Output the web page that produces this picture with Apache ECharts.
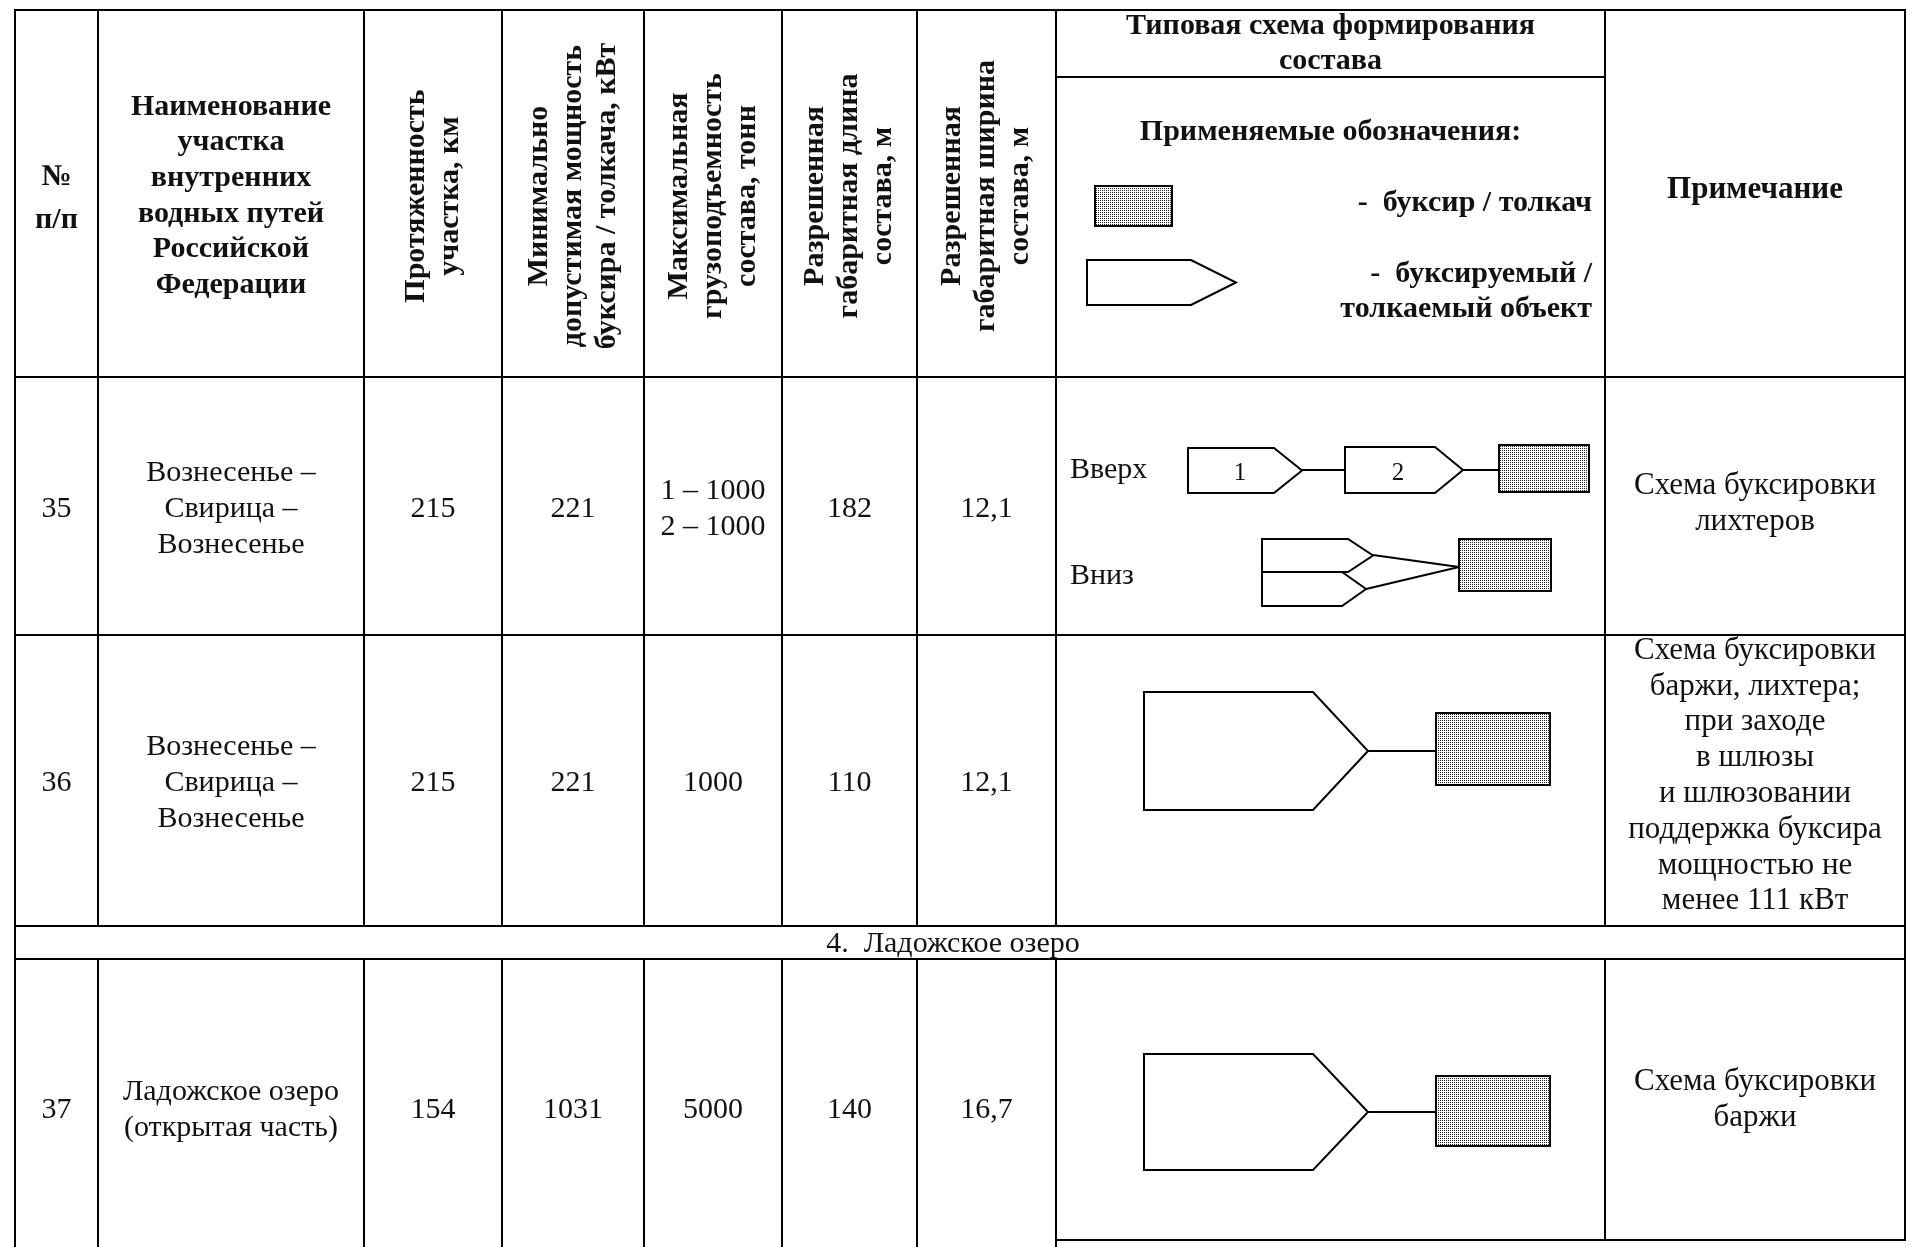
<!DOCTYPE html>
<html>
<head>
<meta charset="utf-8">
<title>Типовые схемы формирования составов</title>
<script src="https://cdn.jsdelivr.net/npm/echarts@6.0.0/dist/echarts.min.js"></script>
<style>
html, body { margin: 0; padding: 0; background: #ffffff; }
#main { width: 1915px; height: 1247px; }
</style>
</head>
<body>
<div id="main"></div>
<script>
// table content
const rowNumbers = ['35', '36', '37'];
const sectionNames = [
  'Вознесенье –\nСвирица –\nВознесенье',
  'Вознесенье –\nСвирица –\nВознесенье',
  'Ладожское озеро\n(открытая часть)'
];
const lengthKm = [215, 215, 154];
const minPowerKw = [221, 221, 1031];
const maxCapacityT = ['1 – 1000\n2 – 1000', '1000', '5000'];
const maxLengthM = ['182', '110', '140'];
const maxWidthM = ['12,1', '12,1', '16,7'];
const notes = [
  'Схема буксировки\nлихтеров',
  'Схема буксировки\nбаржи, лихтера;\nпри заходе\nв шлюзы\nи шлюзовании\nподдержка буксира\nмощностью не\nменее 111 кВт',
  'Схема буксировки\nбаржи'
];
const basinTitle = '4.  Ладожское озеро';
const headerTitles = [
  '№\nп/п',
  'Наименование\nучастка\nвнутренних\nводных путей\nРоссийской\nФедерации',
  'Протяженность\nучастка, км',
  'Минимально\nдопустимая мощность\nбуксира / толкача, кВт',
  'Максимальная\nгрузоподъемность\nсостава, тонн',
  'Разрешенная\nгабаритная длина\nсостава, м',
  'Разрешенная\nгабаритная ширина\nсостава, м'
];
const schemeTitle = 'Типовая схема формирования\nсостава';
const legendTitle = 'Применяемые обозначения:';
const legendTug = '-  буксир / толкач';
const legendBarge = '-  буксируемый /\nтолкаемый объект';
const notesTitle = 'Примечание';
const directionLabels = ['Вверх', 'Вниз'];
const bargeNumbers = ['1', '2'];

// layout (page pixels, mapped 1:1 by the hidden axes)
const colEdges = [15, 98, 364, 502, 644, 782, 917, 1056, 1605, 1905];
const rowEdges = [10, 77, 377, 635, 926, 959, 1240];
const dataBands = [2, 3, 5];
const openBottom = 1262;

const FONT = "'Liberation Serif', 'DejaVu Serif', serif";
const INK = '#111111';

function cx(c0, c1) { return (colEdges[c0] + colEdges[c1]) / 2; }
function cy(r0, r1) { return (rowEdges[r0] + rowEdges[r1]) / 2; }

// cells
const cells = [];
for (let c = 0; c < 9; c++) {
  if (c === 7) {
    cells.push([7, 8, rowEdges[0], rowEdges[1]]);
    cells.push([7, 8, rowEdges[1], rowEdges[2]]);
  } else {
    cells.push([c, c + 1, rowEdges[0], rowEdges[2]]);
  }
}
dataBands.forEach((b, i) => {
  for (let c = 0; c < 9; c++) {
    let bottom = rowEdges[b + 1];
    if (i === 2 && c < 7) bottom = openBottom;
    cells.push([c, c + 1, rowEdges[b], bottom]);
  }
});
cells.push([0, 9, rowEdges[4], rowEdges[5]]);

// texts
const texts = [];
function addText(x, y, text, o) {
  texts.push(Object.assign({ x, y, text, size: 30, weight: 'normal', align: 'center', lh: 36, rot: 0 }, o || {}));
}
headerTitles.forEach((t, c) => {
  const rotated = c >= 2;
  addText(cx(c, c + 1), c === 0 ? 199 : 196, t, {
    size: 30, weight: 'bold', lh: c === 0 ? 43 : (rotated ? 34 : 35.7), rot: rotated ? Math.PI / 2 : 0
  });
});
addText(cx(7, 8), 44, schemeTitle, { size: 30, weight: 'bold', lh: 35 });
addText(cx(7, 8), 132, legendTitle, { size: 30, weight: 'bold' });
addText(1592, 203, legendTug, { size: 30, weight: 'bold', align: 'right' });
addText(1592, 292, legendBarge, { size: 30, weight: 'bold', align: 'right', lh: 35 });
addText(cx(8, 9), 190, notesTitle, { size: 31, weight: 'bold' });

const rowCols = [rowNumbers, sectionNames, lengthKm, minPowerKw, maxCapacityT, maxLengthM, maxWidthM];
dataBands.forEach((b, i) => {
  const yMid = i === 2 ? 1110 : cy(b, b + 1) + 3;
  rowCols.forEach((arr, c) => {
    addText(cx(c, c + 1), yMid, String(arr[i]));
  });
  addText(cx(8, 9), i === 1 ? 776 : (i === 0 ? 504 : 1100), notes[i], { size: 31, lh: 35.8 });
});
addText(953, 944, basinTitle, { size: 30 });
addText(1070, 470, directionLabels[0], { align: 'left' });
addText(1070, 576, directionLabels[1], { align: 'left' });
addText(1240, 473, bargeNumbers[0], { size: 25 });
addText(1398, 473, bargeNumbers[1], { size: 25 });

// convoy sketches: barges (pentagons), tugs (dotted boxes), tow lines
const barges = [
  [1087, 260, 1236, 305, 1191],
  [1188, 448, 1302, 493, 1274],
  [1345, 447, 1463, 493, 1435],
  [1262, 539, 1373, 572, 1348],
  [1262, 572, 1366, 606, 1342],
  [1144, 692, 1368, 810, 1313],
  [1144, 1054, 1368, 1170, 1313]
];
const tugs = [
  [1095, 186, 1172, 226],
  [1499, 445, 1589, 492],
  [1459, 539, 1551, 591],
  [1436, 713, 1550, 785],
  [1436, 1076, 1550, 1146]
];
const towLines = [
  [1302, 470, 1345, 470],
  [1463, 470, 1499, 470],
  [1373, 555, 1459, 567],
  [1366, 589, 1459, 567],
  [1368, 751, 1436, 751],
  [1368, 1112, 1436, 1112]
];

const dots = document.createElement('canvas');
dots.width = 4;
dots.height = 4;
const dctx = dots.getContext('2d');
dctx.fillStyle = '#ffffff';
dctx.fillRect(0, 0, 4, 4);
dctx.fillStyle = '#222222';
dctx.fillRect(0, 0, 1, 1);
dctx.fillRect(2, 2, 1, 1);
dctx.fillRect(2, 0, 1, 1);
dctx.fillRect(0, 2, 1, 1);

const myChart = echarts.init(document.getElementById('main'), null, { renderer: 'canvas' });

const option = {
  animation: false,
  backgroundColor: '#ffffff',
  grid: { left: 0, right: 0, top: 0, bottom: 0 },
  xAxis: { type: 'value', min: 0, max: 1915, show: false },
  yAxis: { type: 'value', min: 0, max: 1247, inverse: true, show: false },
  series: [
    {
      type: 'custom',
      name: 'cells',
      silent: true,
      clip: false,
      data: cells.map((c) => [colEdges[c[0]], c[2]]),
      renderItem: (params, api) => {
        const c = cells[params.dataIndex];
        const p0 = api.coord([colEdges[c[0]], c[2]]);
        const p1 = api.coord([colEdges[c[1]], c[3]]);
        return {
          type: 'rect',
          shape: { x: p0[0], y: p0[1], width: p1[0] - p0[0], height: p1[1] - p0[1] },
          style: { fill: 'none', stroke: '#000000', lineWidth: 2 }
        };
      }
    },
    {
      type: 'custom',
      name: 'barges',
      silent: true,
      clip: false,
      data: barges.map((b) => [b[0], b[1]]),
      renderItem: (params, api) => {
        const b = barges[params.dataIndex];
        const a = api.coord([b[0], b[1]]);
        const s = api.coord([b[4], b[1]]);
        const t = api.coord([b[2], (b[1] + b[3]) / 2]);
        const s2 = api.coord([b[4], b[3]]);
        const a2 = api.coord([b[0], b[3]]);
        return {
          type: 'polygon',
          shape: { points: [a, s, t, s2, a2] },
          style: { fill: '#ffffff', stroke: '#000000', lineWidth: 2 }
        };
      }
    },
    {
      type: 'custom',
      name: 'towLines',
      silent: true,
      clip: false,
      data: towLines.map((l) => [l[0], l[1]]),
      renderItem: (params, api) => {
        const l = towLines[params.dataIndex];
        const p0 = api.coord([l[0], l[1]]);
        const p1 = api.coord([l[2], l[3]]);
        return {
          type: 'line',
          shape: { x1: p0[0], y1: p0[1], x2: p1[0], y2: p1[1] },
          style: { stroke: '#000000', lineWidth: 2 }
        };
      }
    },
    {
      type: 'custom',
      name: 'tugs',
      silent: true,
      clip: false,
      data: tugs.map((t) => [t[0], t[1]]),
      renderItem: (params, api) => {
        const t = tugs[params.dataIndex];
        const p0 = api.coord([t[0], t[1]]);
        const p1 = api.coord([t[2], t[3]]);
        return {
          type: 'rect',
          shape: { x: p0[0], y: p0[1], width: p1[0] - p0[0], height: p1[1] - p0[1] },
          style: { fill: { image: dots, repeat: 'repeat' }, stroke: '#000000', lineWidth: 2 }
        };
      }
    },
    {
      type: 'custom',
      name: 'texts',
      silent: true,
      clip: false,
      data: texts.map((t) => [t.x, t.y]),
      renderItem: (params, api) => {
        const t = texts[params.dataIndex];
        const p = api.coord([t.x, t.y]);
        return {
          type: 'text',
          x: p[0],
          y: p[1],
          rotation: t.rot,
          style: {
            text: t.text,
            fill: INK,
            fontFamily: FONT,
            fontSize: t.size,
            fontWeight: t.weight,
            lineHeight: t.lh,
            align: t.align,
            verticalAlign: 'middle'
          }
        };
      }
    }
  ]
};

myChart.setOption(option);
window.addEventListener('resize', () => myChart.resize());
</script>
</body>
</html>
